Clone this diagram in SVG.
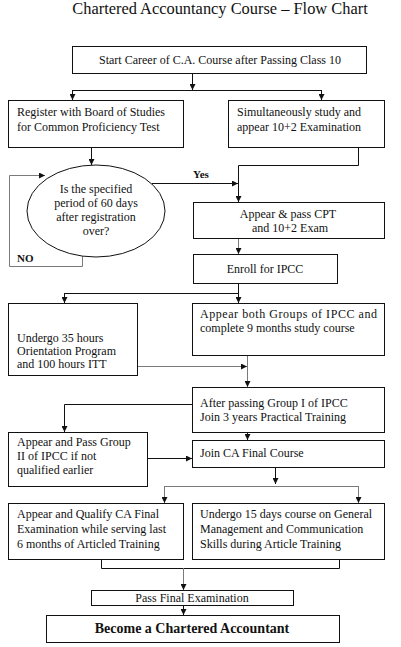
<svg xmlns="http://www.w3.org/2000/svg" width="401" height="647" viewBox="0 0 401 647">
<style>
text{font-family:"Liberation Serif","Times New Roman",serif;font-size:12px;fill:#111}
.t{font-size:16.4px}
.c{text-anchor:middle}
.b{font-weight:bold}
rect,ellipse{fill:#fff;stroke:#111;stroke-width:1}
.ln{fill:none;stroke:#111;stroke-width:1}
.g{stroke:#7a7a7a}
</style>
<defs>
<marker id="ah" markerUnits="userSpaceOnUse" markerWidth="6" markerHeight="6" refX="6" refY="3" orient="auto">
<path d="M0,0 L6,3 L0,6 z" fill="#111"/>
</marker>
</defs>
<rect x="0" y="0" width="401" height="647" style="stroke:none"/>
<text class="t c" x="220" y="14">Chartered Accountancy Course – Flow Chart</text>

<g id="connectors">
<path class="ln" d="M192.5,73 V90" marker-end="url(#ah)"/>
<path class="ln" d="M72.5,90.5 H321.5"/>
<path class="ln" d="M72.5,90 V100" marker-end="url(#ah)"/>
<path class="ln" d="M321.5,90 V100" marker-end="url(#ah)"/>
<path class="ln" d="M91.5,147 V165" marker-end="url(#ah)"/>
<path class="ln" d="M358.5,147 V165.5 H238.5 V202" marker-end="url(#ah)"/>
<path class="ln" d="M152,183.5 H238" marker-end="url(#ah)"/>
<path class="ln g" d="M82.5,256 V266.5 H9.5 V175.5 H45" marker-end="url(#ah)"/>
<path class="ln g" d="M238.5,238 V254" marker-end="url(#ah)"/>
<path class="ln" d="M238.5,283 V293.5"/>
<path class="ln" d="M64.5,293.5 H238.5"/>
<path class="ln" d="M64.5,293 V303" marker-end="url(#ah)"/>
<path class="ln" d="M238.5,293 V303" marker-end="url(#ah)"/>
<path class="ln g" d="M247.5,355 V387" marker-end="url(#ah)"/>
<path class="ln g" d="M137,366.5 H247" marker-end="url(#ah)"/>
<path class="ln" d="M192,404.5 H64.5 V432" marker-end="url(#ah)"/>
<path class="ln" d="M247.5,432 V440" marker-end="url(#ah)"/>
<path class="ln" d="M147,458.5 H192" marker-end="url(#ah)"/>
<path class="ln" d="M275.5,467 V484" marker-end="url(#ah)"/>
<path class="ln g" d="M164.5,486.5 H358.5"/>
<path class="ln g" d="M164.5,486 V503" marker-end="url(#ah)"/>
<path class="ln g" d="M358.5,486 V503" marker-end="url(#ah)"/>
<path class="ln" d="M101.5,559 V568.5 H339.5 V559"/>
<path class="ln g" d="M183.5,568 V590" marker-end="url(#ah)"/>
<path class="ln" d="M183.5,605 V615" marker-end="url(#ah)"/>
<text class="b" x="193" y="178" style="font-size:11px">Yes</text>
<text class="b" x="17" y="262" style="font-size:11px">NO</text>
</g>

<g id="n1"><rect x="72.5" y="46.5" width="294" height="27"/>
<text class="c" x="220" y="64">Start Career of C.A. Course after Passing Class 10</text></g>

<g id="n2"><rect x="8.5" y="100.5" width="175" height="47"/>
<text x="17" y="116">Register with Board of Studies</text>
<text x="17" y="131">for Common Proficiency Test</text></g>

<g id="n3"><rect x="228.5" y="100.5" width="156" height="47"/>
<text x="237" y="116">Simultaneously study and</text>
<text x="237" y="131">appear 10+2 Examination</text></g>

<g id="n4"><ellipse cx="96" cy="211" rx="69" ry="46"/>
<text class="c" x="96" y="193">Is the specified</text>
<text class="c" x="96" y="207">period of 60 days</text>
<text class="c" x="96" y="221">after registration</text>
<text class="c" x="96" y="235">over?</text></g>

<g id="n5"><rect x="193.5" y="202.5" width="191" height="36"/>
<text class="c" x="288" y="218">Appear &amp; pass CPT</text>
<text class="c" x="290" y="232">and 10+2 Exam</text></g>

<g id="n6"><rect x="193.5" y="254.5" width="144" height="29"/>
<text class="c" x="265" y="273">Enroll for IPCC</text></g>

<g id="n7"><rect x="8.5" y="303.5" width="129" height="72"/>
<text x="17" y="342">Undergo 35 hours</text>
<text x="17" y="355">Orientation Program</text>
<text x="17" y="368">and 100 hours ITT</text></g>

<g id="n8"><rect x="192.5" y="303.5" width="192" height="52"/>
<text x="200" y="318" textLength="177" lengthAdjust="spacing">Appear  both  Groups of IPCC  and</text>
<text x="200" y="332">complete 9 months study course</text></g>

<g id="n9"><rect x="192.5" y="387.5" width="192" height="45"/>
<text x="200" y="407">After passing Group I of IPCC</text>
<text x="200" y="421">Join 3 years Practical Training</text></g>

<g id="n10"><rect x="8.5" y="432.5" width="139" height="54"/>
<text x="17" y="446">Appear and Pass Group</text>
<text x="17" y="460">II of IPCC if not</text>
<text x="17" y="474">qualified earlier</text></g>

<g id="n11"><rect x="192.5" y="440.5" width="192" height="27"/>
<text x="200" y="457">Join CA Final Course</text></g>

<g id="n12"><rect x="8.5" y="503.5" width="175" height="56"/>
<text x="17" y="518">Appear and Qualify CA Final</text>
<text x="17" y="533">Examination while serving last</text>
<text x="17" y="548">6 months of Articled Training</text></g>

<g id="n13"><rect x="192.5" y="503.5" width="192" height="56"/>
<text x="200" y="518">Undergo 15 days course on General</text>
<text x="200" y="533">Management and Communication</text>
<text x="200" y="548">Skills during Article Training</text></g>

<g id="n14"><rect x="91.5" y="590.5" width="202" height="15"/>
<text class="c" x="192" y="602">Pass Final Examination</text></g>

<g id="n15"><rect x="46.5" y="615.5" width="293" height="27"/>
<text class="c b" x="192" y="633" style="font-size:14px">Become a Chartered Accountant</text></g>
</svg>
